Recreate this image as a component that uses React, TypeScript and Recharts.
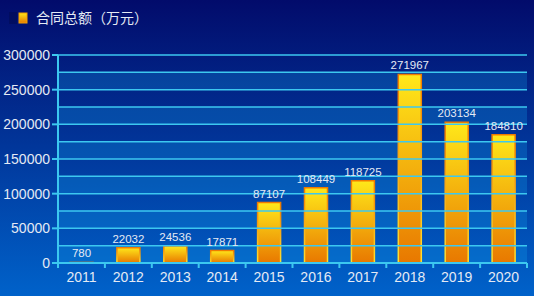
import { BarChart, Bar, XAxis, YAxis, ReferenceLine, ReferenceArea, LabelList } from "recharts";

const years = ["2011", "2012", "2013", "2014", "2015", "2016", "2017", "2018", "2019", "2020"];
const amounts = [780, 22032, 24536, 17871, 87107, 108449, 118725, 271967, 203134, 184810];
const yTicks = [0, 50000, 100000, 150000, 200000, 250000, 300000];
const gridValues = [25000, 50000, 75000, 100000, 125000, 150000, 175000, 200000, 225000, 250000, 275000, 300000];
const seriesName = "合同总额（万元）";

const data = years.map((year, i) => ({ year, value: amounts[i] }));

const W = 534;
const H = 296;
const LEFT = 58;
const RIGHT = 7;
const STEP = (W - LEFT - RIGHT) / years.length;
const CYAN = "#3cc8f0";
const TEXT = "#e4eaf4";
const FONT = "'Liberation Sans', Arial, 'Noto Sans CJK SC', sans-serif";

// light bands start at every other grid line (0, 50000, ...)
const bandStarts = [0, ...gridValues].filter((v, i) => i % 2 === 0 && v < 300000);

const XTick = (props: any) => {
  const { x, y, payload, index } = props;
  const left = x - STEP / 2;
  return (
    <g>
      <line x1={left} x2={left} y1={y - 8} y2={y - 3} stroke={CYAN} strokeWidth={2} />
      {index === years.length - 1 && (
        <line x1={x + STEP / 2} x2={x + STEP / 2} y1={y - 8} y2={y - 3} stroke={CYAN} strokeWidth={2} />
      )}
      <text x={x} y={y} dy={11} textAnchor="middle" fill={TEXT} fontSize={14} fontFamily={FONT}>
        {payload.value}
      </text>
    </g>
  );
};

export default function App() {
  return (
    <div
      style={{
        position: "absolute",
        left: 0,
        top: 0,
        width: W,
        height: H,
        background: "linear-gradient(to bottom, #020b6b, #0062ca)",
        fontFamily: FONT,
      }}
    >
      <div style={{ position: "absolute", left: 9, top: 10, display: "flex", alignItems: "center", zIndex: 2 }}>
        <svg width={20} height={16}>
          <defs>
            <linearGradient id="legGrad" x1="0" y1="0" x2="0" y2="1">
              <stop offset="0%" stopColor="#ffe81a" />
              <stop offset="100%" stopColor="#e87a00" />
            </linearGradient>
          </defs>
          <rect x={0} y={2} width={8} height={12} fill="#000a50" opacity={0.5} />
          <rect x={10} y={3} width={8} height={10} fill="url(#legGrad)" stroke="#f4a000" strokeWidth={1} />
        </svg>
        <span style={{ color: TEXT, fontSize: 14, marginLeft: 7, lineHeight: "16px" }}>{seriesName}</span>
      </div>
      <BarChart
        width={W}
        height={H}
        data={data}
        margin={{ top: 55, right: RIGHT, bottom: 3, left: 0 }}
        barSize={23}
      >
        <defs>
          <linearGradient id="barFill" x1="0" y1="0" x2="0" y2="1">
            <stop offset="0%" stopColor="#ffe81a" />
            <stop offset="100%" stopColor="#e87800" />
          </linearGradient>
          <linearGradient id="barStroke" x1="0" y1="0" x2="0" y2="1">
            <stop offset="0%" stopColor="#f07a00" />
            <stop offset="100%" stopColor="#ffe030" />
          </linearGradient>
        </defs>
        {bandStarts.map((v) => (
          <ReferenceArea key={"b" + v} y1={v} y2={v + 25000} fill="#12a8f0" fillOpacity={0.25} stroke="none" />
        ))}
        {gridValues.map((v) => (
          <ReferenceLine key={"g" + v} y={v} stroke={CYAN} strokeWidth={1.5} />
        ))}
        <XAxis
          dataKey="year"
          height={30}
          axisLine={{ stroke: CYAN, strokeWidth: 2 }}
          tickLine={false}
          tick={<XTick />}
          interval={0}
        />
        <YAxis
          width={LEFT}
          domain={[0, 300000]}
          ticks={yTicks}
          interval={0}
          axisLine={{ stroke: CYAN, strokeWidth: 2 }}
          tickLine={{ stroke: CYAN, strokeWidth: 2 }}
          tickSize={6}
          tickMargin={2}
          tick={{ fill: TEXT, fontSize: 14, fontFamily: FONT }}
        />
        <Bar dataKey="value" fill="url(#barFill)" stroke="url(#barStroke)" strokeWidth={1.5} isAnimationActive={false}>
          <LabelList dataKey="value" position="top" offset={5} fill={TEXT} fontSize={11.5} fontFamily={FONT} />
        </Bar>
      </BarChart>
    </div>
  );
}
